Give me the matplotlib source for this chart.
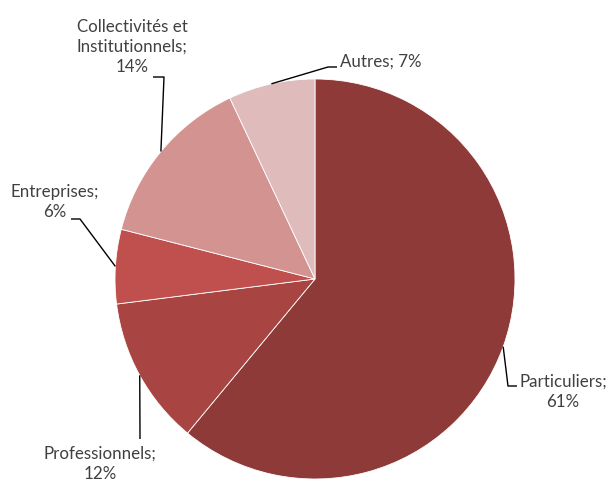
import matplotlib
matplotlib.use("Agg")
import matplotlib.pyplot as plt
import numpy as np

categories = ["Particuliers", "Professionnels", "Entreprises", "Collectivités et\nInstitutionnels", "Autres"]
values = [61, 12, 6, 14, 7]
colors = ["#8E3A38", "#A84442", "#C0504D", "#D39391", "#E0BBBB"]
labels = ["Particuliers;\n61%", "Professionnels;\n12%", "Entreprises;\n6%",
          "Collectivités et\nInstitutionnels;\n14%", "Autres; 7%"]

plt.rcParams['font.family'] = ['Lato', 'DejaVu Sans']

W, H = 608, 482
fig = plt.figure(figsize=(W/100, H/100), dpi=100)
ax = fig.add_axes([0, 0, 1, 1])
cx, cy, R = 315, 279, 200

def d(px, py):
    return ((px - cx) / R, (cy - py) / R)

wedges, _ = ax.pie(values, colors=colors, startangle=90, counterclock=False,
                   radius=1, center=(0, 0),
                   wedgeprops=dict(edgecolor="white", linewidth=0.6))
ax.set_xlim(-cx / R, (W - cx) / R)
ax.set_ylim((cy - H) / R, cy / R)
ax.set_aspect("equal")
ax.axis("off")

# leader-line elbow points (pixels) and text placements
layout = [
    # Particuliers
    dict(pts=[(508, 386), (517, 386)], txt=(563, 392), ha="center"),
    # Professionnels
    dict(pts=[(140, 439)], txt=(100, 464), ha="center"),
    # Entreprises
    dict(pts=[(80, 219), (71, 219)], txt=(55, 202), ha="center"),
    # Collectivités
    dict(pts=[(164, 77), (153, 77)], txt=(132, 47), ha="center"),
    # Autres
    dict(pts=[(328, 67), (337, 67)], txt=(340, 62), ha="left"),
]

for w, lab, lay in zip(wedges, labels, layout):
    ang = np.deg2rad((w.theta1 + w.theta2) / 2)
    x0, y0 = np.cos(ang), np.sin(ang)
    xs = [x0] + [d(*p)[0] for p in lay["pts"]]
    ys = [y0] + [d(*p)[1] for p in lay["pts"]]
    ax.plot(xs, ys, color="black", lw=1.0, solid_capstyle="butt")
    tx, ty = d(*lay["txt"])
    ax.text(tx, ty, lab, ha=lay["ha"], va="center", fontsize=12.2,
            color="#404040", linespacing=1.3, multialignment="center")

fig.savefig("out.png", dpi=100)
